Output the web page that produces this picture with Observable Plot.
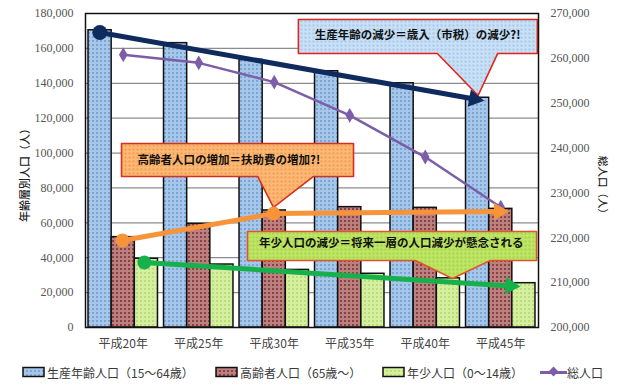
<!DOCTYPE html>
<html><head><meta charset="utf-8">
<script src="https://cdn.jsdelivr.net/npm/d3@7"></script>
<script src="https://cdn.jsdelivr.net/npm/@observablehq/plot@0.6"></script>
<style>
body{margin:0;background:#fff;}
#wrap{position:relative;width:621px;height:390px;overflow:hidden;font-family:"Noto Sans CJK JP",sans-serif;}
#chart{position:absolute;left:0;top:0;}
.leg{position:absolute;top:363px;height:18px;display:flex;align-items:center;font-size:12px;color:#3a3a3a;white-space:nowrap;}
.ln{position:relative;width:27px;height:3px;background:#7b5ea7;margin-right:0px;}
.ln:after{content:"";position:absolute;left:10px;top:-3px;width:7px;height:7px;background:#7b5ea7;transform:rotate(45deg);}
</style></head>
<body>
<svg width="0" height="0" style="position:absolute">
<defs>
<pattern id="pBlue" width="4" height="4" patternUnits="userSpaceOnUse"><rect width="4" height="4" fill="#a6c6ea"/><rect width="2" height="2" fill="#7aa5d4"/></pattern>
<pattern id="pRed" width="4" height="4" patternUnits="userSpaceOnUse"><rect width="4" height="4" fill="#bb8080"/><rect width="2" height="2" fill="#8c4040"/></pattern>
<pattern id="pGreen" width="4" height="4" patternUnits="userSpaceOnUse"><rect width="4" height="4" fill="#d5efa0"/><rect width="2" height="2" fill="#bcde7a"/></pattern>
<pattern id="cBlue" width="4" height="4" patternUnits="userSpaceOnUse"><rect width="4" height="4" fill="#c9e0f5"/><rect width="2" height="2" fill="#a6c8ea"/></pattern>
<pattern id="cOrange" width="4" height="4" patternUnits="userSpaceOnUse"><rect width="4" height="4" fill="#fbb878"/><rect width="2" height="2" fill="#f49b48"/></pattern>
<pattern id="cGreen" width="4" height="4" patternUnits="userSpaceOnUse"><rect width="4" height="4" fill="#bfe567"/><rect width="2" height="2" fill="#a6d34a"/></pattern>
</defs>
</svg>
<div id="wrap"><div id="chart"></div></div>
<script>
// ---- data ----
const categories = ["平成20年", "平成25年", "平成30年", "平成35年", "平成40年", "平成45年"];
const working = [170400, 163000, 153400, 146900, 140000, 131700]; // 生産年齢人口
const elderly = [51800, 59400, 67100, 69000, 68600, 68000];       // 高齢者人口
const young = [39400, 36100, 33000, 30800, 28200, 25400];         // 年少人口
const total = [260800, 259000, 254700, 247300, 238000, 226800];   // 総人口 (right axis)
const leftTicks = d3.range(0, 180001, 20000);
const rightTicks = d3.range(200000, 270001, 10000);
const seriesNames = ["生産年齢人口（15～64歳）", "高齢者人口（65歳～）", "年少人口（0～14歳）", "総人口"];
const leftTitle = "年齢層別人口（人）";
const rightTitle = "総人口（人）";
// annotation trend arrows: [category position, people]
const workingTrend = [[0.19, 169100], [5.26, 130100]];
const elderlyTrend = [[0.49, 49900], [2.49, 65300], [5.59, 66500]];
const youngTrend = [[0.78, 37300], [5.74, 23500]];
const calloutTexts = ["生産年齢の減少＝歳入（市税）の減少?!", "高齢者人口の増加＝扶助費の増加?!", "年少人口の減少＝将来一層の人口減少が懸念される"];

// ---- layout helpers ----
const LMAX = 180000, RMIN = 200000, RMAX = 270000;
const toLeft = r => (r - RMIN) * LMAX / (RMAX - RMIN);
const pad = 0.04, bw = (1 - 2 * pad) / 3;
const barRows = (vals, k) => vals.map((v, i) => ({x1: i + pad + k * bw, x2: i + pad + (k + 1) * bw, v}));
const totalRows = total.map((v, i) => ({x: i + 0.5, y: toLeft(v)}));

const callouts = [
  {text: calloutTexts[0], fill: "url(#cBlue)", stroke: "#e2231a", box: [2.82, 5.985, 176600, 157100], notch: [4.66, 5.46], tip: [5.2, 133000], label: [4.40, 167400]},
  {text: calloutTexts[1], fill: "url(#cOrange)", stroke: "#d2321e", box: [0.477, 3.55, 105500, 86600], notch: [2.28, 3.02], tip: [2.49, 68800], label: [1.90, 95700]},
  {text: calloutTexts[2], fill: "url(#cGreen)", stroke: "#e0562a", box: [2.146, 5.974, 55000, 38400], notch: [4.37, 5.36], tip: [4.86, 28100], label: [4.05, 48200]}
];
const bubble = c => {
  const [x1, x2, yt, yb] = c.box;
  return [[x1, yt], [x2, yt], [x2, yb], [c.notch[1], yb], c.tip, [c.notch[0], yb], [x1, yb], [x1, yt]];
};

const trends = [
  {pts: workingTrend, color: "#0f2b5e", r: 7.5},
  {pts: elderlyTrend, color: "#f7943a", r: 7},
  {pts: youngTrend, color: "#17b14b", r: 7}
];

function build(heads) {
  const marks = [
    Plot.ruleY(leftTicks.slice(1), {stroke: "#8c8c8c", strokeWidth: 1.2}),
    Plot.rect(barRows(working, 0), {x1: "x1", x2: "x2", y1: 0, y2: "v", fill: "url(#pBlue)", stroke: "#111", strokeWidth: 1.5}),
    Plot.rect(barRows(elderly, 1), {x1: "x1", x2: "x2", y1: 0, y2: "v", fill: "url(#pRed)", stroke: "#111", strokeWidth: 1.5}),
    Plot.rect(barRows(young, 2), {x1: "x1", x2: "x2", y1: 0, y2: "v", fill: "url(#pGreen)", stroke: "#111", strokeWidth: 1.5}),
    Plot.line(totalRows, {x: "x", y: "y", stroke: "#7b5ea7", strokeWidth: 2.5}),
    Plot.dot(totalRows, {x: "x", y: "y", symbol: "diamond", r: 4.5, fill: "#7b5ea7"}),
    ...callouts.map(c => Plot.line(bubble(c), {x: d => d[0], y: d => d[1], fill: c.fill, stroke: c.stroke, strokeWidth: 1.6})),
    ...callouts.map(c => Plot.text([c], {x: d => d.label[0], y: d => d.label[1], text: "text", fontSize: 11.5, fontWeight: "bold", fill: "#111", fontFamily: "Noto Sans CJK JP"})),
  ];
  trends.forEach((t, ti) => {
    const pts = t.pts.slice();
    if (heads) pts[pts.length - 1] = heads[ti].base;
    marks.push(Plot.line(pts, {x: d => d[0], y: d => d[1], stroke: t.color, strokeWidth: 5}));
    marks.push(Plot.dot(t.pts.slice(0, -1), {x: d => d[0], y: d => d[1], r: t.r, fill: t.color}));
    if (heads) marks.push(Plot.dot([heads[ti]], {x: d => d.c[0], y: d => d.c[1], symbol: "triangle", r: 6.5, fill: t.color, rotate: d => d.angle}));
  });
  marks.push(
    Plot.frame({stroke: "#111", strokeWidth: 1.5}),
    Plot.text(leftTicks, {x: 0, y: d => d, text: d => d3.format(",")(d), textAnchor: "end", dx: -12, fontSize: 12, fill: "#555", fontFamily: "Liberation Serif"}),
    Plot.text(rightTicks, {x: 6, y: d => toLeft(d), text: d => d3.format(",")(d), textAnchor: "start", dx: 12, fontSize: 12, fill: "#555", fontFamily: "Liberation Serif"}),
    Plot.text(categories, {x: (d, i) => i + 0.5, y: 0, text: d => d, dy: 17, fontSize: 12, fill: "#444", fontFamily: "Noto Sans CJK JP"}),
    Plot.text([leftTitle], {frameAnchor: "left", textAnchor: "middle", dx: -60, dy: 2, rotate: -90, text: d => d, fontSize: 11, fontWeight: 500, fill: "#222", fontFamily: "Noto Sans CJK JP"}),
    Plot.text([rightTitle], {frameAnchor: "right", textAnchor: "middle", dx: 64, dy: 17, rotate: 90, text: d => d, fontSize: 10.5, fontWeight: 500, fill: "#222", fontFamily: "Noto Sans CJK JP"})
  );
  return Plot.plot({
    width: 621, height: 350,
    marginTop: 13, marginBottom: 23, marginLeft: 85, marginRight: 83,
    x: {domain: [0, 6], axis: null},
    y: {domain: [0, LMAX], axis: null},
    style: {background: "white", fontFamily: "Noto Sans CJK JP"},
    marks
  });
}

// first pass to get scales, then compute arrowheads in pixel space
const first = build(null);
const sx = first.scale("x"), sy = first.scale("y");
const heads = trends.map(t => {
  const a = t.pts[t.pts.length - 2], b = t.pts[t.pts.length - 1];
  const ax = sx.apply(a[0]), ay = sy.apply(a[1]), bx = sx.apply(b[0]), by = sy.apply(b[1]);
  const L = Math.hypot(bx - ax, by - ay), ux = (bx - ax) / L, uy = (by - ay) / L;
  const back = 8.5;
  const cx = bx - ux * back, cy = by - uy * back;
  return {c: [sx.invert(cx), sy.invert(cy)], base: [sx.invert(cx), sy.invert(cy)], angle: 90 + Math.atan2(uy, ux) * 180 / Math.PI};
});
document.getElementById("chart").append(build(heads));

// legend
const wrap = document.getElementById("wrap");
const legLeft = [22, 215, 382, 540];
const legFill = ["url(#pBlue)", "url(#pRed)", "url(#pGreen)"];
seriesNames.forEach((name, i) => {
  const d = document.createElement("div");
  d.className = "leg";
  d.style.left = legLeft[i] + "px";
  if (i < 3) {
    d.innerHTML = `<svg width="24" height="12" style="margin-right:1px"><rect x="1" y="1.5" width="21" height="9" fill="${legFill[i]}" stroke="#111" stroke-width="1.5"/></svg><span>${name}</span>`;
  } else {
    d.innerHTML = `<span class="ln"></span><span>${name}</span>`;
  }
  wrap.append(d);
});
</script>
</body></html>
